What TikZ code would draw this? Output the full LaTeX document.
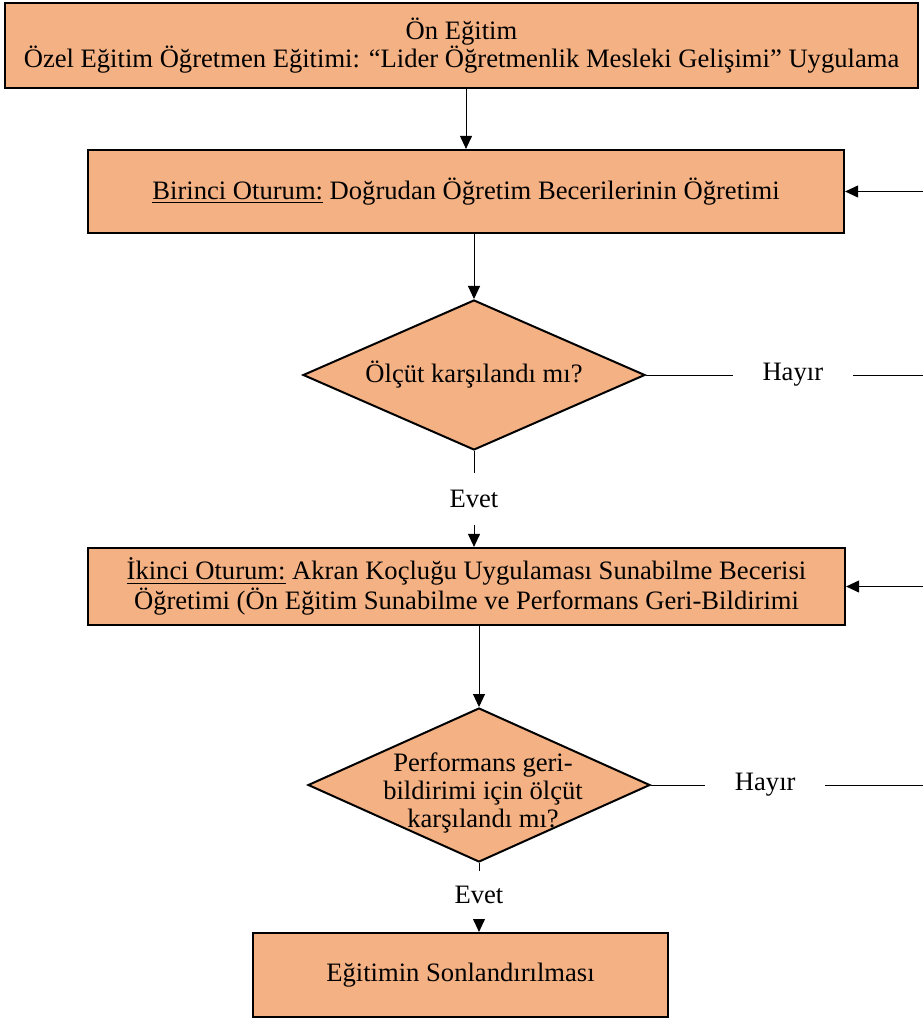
\documentclass[tikz,border=0pt]{standalone}
\usepackage{fontspec}
\setmainfont{Liberation Serif}
\usetikzlibrary{shapes.geometric,arrows.meta}
\definecolor{turuncu}{HTML}{F4B183}

\begin{document}
\begin{tikzpicture}[x=0.5pt,y=-0.5pt,
    font=\fontsize{13.3}{14.2}\selectfont,
    kutu/.style={draw,line width=1.1pt,fill=turuncu,align=center,inner sep=0pt},
    karar/.style={draw,line width=1pt,fill=turuncu,diamond,inner sep=0pt},
    etiket/.style={fill=white,inner sep=0pt,minimum width=60pt,minimum height=26pt},
    ok/.style={-{Triangle[length=6.5pt,width=6pt]},line width=0.5pt}]
  \useasboundingbox (0,0) rectangle (922,1021);
  % kutular
  \node[kutu,minimum width=456.5pt,minimum height=42.5pt] (ust) at (461.5,45.5)
    {Ön Eğitim\\Özel Eğitim Öğretmen Eğitimi: “Lider Öğretmenlik Mesleki Gelişimi” Uygulama};
  \node[kutu,minimum width=378pt,minimum height=41.5pt] (oturum1) at (466,191.5)
    {\underline{Birinci Oturum:} Doğrudan Öğretim Becerilerinin Öğretimi};
  \node[karar,minimum width=171pt,minimum height=75pt,
    label={center:Ölçüt karşılandı mı?}] (olcut1) at (474,375) {};
  \node[kutu,minimum width=378.5pt,minimum height=38.5pt] (oturum2) at (466.5,586.5)
    {\underline{İkinci Oturum:} Akran Koçluğu Uygulaması Sunabilme Becerisi\\[0.6pt]Öğretimi (Ön Eğitim Sunabilme ve Performans Geri-Bildirimi};
  \node[karar,minimum width=171pt,minimum height=77pt,
    label={[align=center,xshift=2pt,yshift=-4pt]center:Performans geri-\\bildirimi için ölçüt\\karşılandı mı?}] (olcut2) at (479,785) {};
  \node[kutu,minimum width=207.5pt,minimum height=42pt] (son) at (460.5,975)
    {Eğitimin Sonlandırılması};
  \coordinate (sag1) at (923,375);
  \coordinate (sag2) at (923,785);
  % oklar
  \draw[ok] (oturum1.north |- ust.south) -- (oturum1.north);
  \draw[ok] (olcut1.north |- oturum1.south) -- (olcut1.north);
  \draw[ok] (olcut1.south) -- node[etiket] {Evet} (olcut1.south |- oturum2.north);
  \draw[ok] (olcut1.east) -- node[etiket,pos=0.53] {Hayır} (sag1) |- (oturum1.east);
  \draw[ok] (olcut2.north |- oturum2.south) -- (olcut2.north);
  \draw[ok] (olcut2.east) -- node[etiket,pos=0.42,minimum height=30pt] {Hayır} (sag2) |- (oturum2.east);
  \draw[ok] (olcut2.south) -- node[etiket,pos=0.47,minimum height=24pt] {Evet} (olcut2.south |- son.north);
\end{tikzpicture}
\end{document}
